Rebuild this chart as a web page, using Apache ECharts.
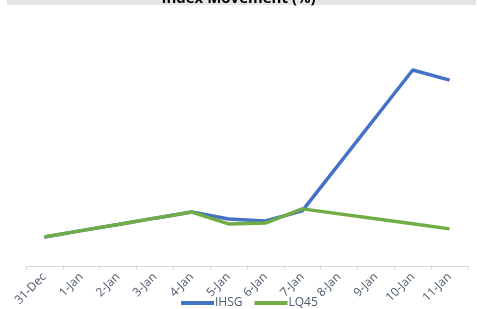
<!DOCTYPE html>
<html>
<head>
<meta charset="utf-8">
<script src="https://cdn.jsdelivr.net/npm/echarts@6/dist/echarts.min.js"></script>
<style>
  html, body { margin: 0; padding: 0; background: #fff; }
  #chart { width: 477px; height: 309px; }
</style>
</head>
<body>
<div id="chart"></div>
<script>
// dates on the x axis
const days = ['31-Dec', '1-Jan', '2-Jan', '3-Jan', '4-Jan', '5-Jan', '6-Jan', '7-Jan', '8-Jan', '9-Jan', '10-Jan', '11-Jan']
// index movement, % from 31-Dec (8/9 Jan no data)
const ihsg = [0, 0.22, 0.43, 0.65, 0.86, 0.62, 0.55, 0.9, null, null, 5.76, 5.41]
const lq45 = [0, 0.22, 0.43, 0.65, 0.86, 0.45, 0.48, 0.97, null, null, 0.46, 0.28]

const chart = echarts.init(document.getElementById('chart'))
const labelColor = '#4f5a6c'

chart.setOption({
  animation: false,
  color: ['#4472C4', '#70AD47'],
  title: {
    text: 'Index Movement (%)',
    left: 'center',
    top: -14,
    z: 10,
    textStyle: { fontFamily: 'Open Sans', fontSize: 15, fontWeight: 'bold', color: '#000' }
  },
  graphic: [{
    type: 'rect',
    z: -1,
    shape: { x: 7, y: 0, width: 469, height: 5 },
    style: { fill: '#e5e5e5' }
  }],
  legend: {
    bottom: -5,
    left: 176,
    itemWidth: 33,
    itemHeight: 4,
    itemGap: 12,
    icon: 'rect',
    textStyle: { color: labelColor, fontSize: 12, fontFamily: 'Open Sans', padding: [0, 0, 0, -4] },
    data: ['IHSG', 'LQ45']
  },
  grid: { left: 26, right: 9, top: 34, bottom: 43 },
  xAxis: {
    type: 'category',
    data: days,
    axisLine: { onZero: false, lineStyle: { color: '#d9d9d9', width: 1 } },
    axisTick: { show: true, length: 4, lineStyle: { color: '#d9d9d9' } },
    axisLabel: { rotate: 45, margin: 9, color: labelColor, fontSize: 12, fontFamily: 'Open Sans', interval: 0 }
  },
  yAxis: {
    type: 'value',
    min: -1,
    max: 7,
    show: false,
    splitLine: { show: false }
  },
  series: [
    { name: 'IHSG', type: 'line', data: ihsg, connectNulls: true, symbol: 'none', lineStyle: { width: 3.5 } },
    { name: 'LQ45', type: 'line', data: lq45, connectNulls: true, symbol: 'none', lineStyle: { width: 3.5 } }
  ]
})
</script>
</body>
</html>
